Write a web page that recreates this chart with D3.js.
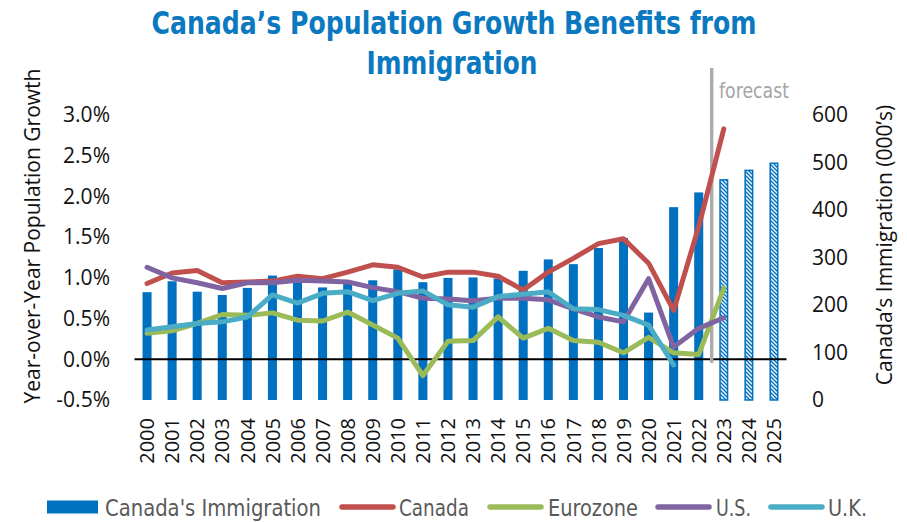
<!DOCTYPE html>
<html><head><meta charset="utf-8">
<script src="https://cdn.jsdelivr.net/npm/d3@7"></script>
<style>body{margin:0;background:#fff}svg{display:block}</style>
</head><body>
<svg id="chart" width="907" height="522"></svg>
<script>
const years = ["2000","2001","2002","2003","2004","2005","2006","2007","2008","2009","2010","2011","2012","2013","2014","2015","2016","2017","2018","2019","2020","2021","2022","2023","2024","2025"];
const immigration = [227,250,228,221,236,262,250,237,247,252,275,248,257,258,256,272,296,286,320,341,184,406,437,465,485,500];
const forecastYears = ["2023","2024","2025"];
const canada   = [0.93,1.06,1.09,0.94,0.95,0.96,1.02,0.99,1.07,1.16,1.13,1.01,1.07,1.07,1.02,0.85,1.07,1.24,1.42,1.48,1.18,0.60,1.63,2.83,null,null];
const eurozone = [0.32,0.35,0.44,0.55,0.54,0.57,0.48,0.47,0.58,0.42,0.26,-0.20,0.22,0.23,0.52,0.26,0.38,0.23,0.21,0.08,0.27,0.08,0.06,0.87,null,null];
const us       = [1.13,1.00,0.94,0.87,0.94,0.94,0.97,0.96,0.95,0.88,0.83,0.75,0.74,0.72,0.75,0.75,0.73,0.62,0.52,0.46,0.99,0.15,0.38,0.51,null,null];
const uk       = [0.36,0.40,0.44,0.46,0.52,0.79,0.69,0.81,0.83,0.72,0.81,0.84,0.67,0.64,0.77,0.80,0.83,0.62,0.61,0.54,0.42,-0.07,null,null,null,null];
const leftTicks = [-0.5,0,0.5,1.0,1.5,2.0,2.5,3.0];
const rightTicks = [0,100,200,300,400,500,600];
const seriesNames = ["Canada","Eurozone","U.S.","U.K."];
const seriesColors = ["#C0504D","#9BBB59","#8064A2","#4BACC6"];
const titleLines = ["Canada\u2019s Population Growth Benefits from","Immigration"];

const svg = d3.select("#chart");
const plotTop = 115, plotBottom = 400, plotLeft = 134.5, plotRight = 786.5;

const x = d3.scaleBand().domain(years).range([plotLeft, plotRight]).paddingInner(0.64).paddingOuter(0.32);
const yL = d3.scaleLinear().domain([-0.5, 3.0]).range([plotBottom, plotTop]);
const yR = d3.scaleLinear().domain([0, 600]).range([plotBottom, plotTop]);
const cx = d => x(d) + x.bandwidth()/2;

// pattern for forecast bars
const defs = svg.append("defs");
const pat = defs.append("pattern").attr("id","hatch").attr("patternUnits","userSpaceOnUse")
  .attr("width",4).attr("height",4);
pat.append("rect").attr("width",4).attr("height",4).attr("fill","#0070C0");
pat.append("path").attr("d","M-1,-1 L5,5 M-1,3 L1,5 M3,-1 L5,1").attr("stroke","#fff").attr("stroke-width",1.4);

// title
const title = svg.append("g").attr("font-family","'Liberation Sans Narrow','DejaVu Sans Condensed',sans-serif")
  .attr("font-weight","bold").attr("font-size",32).attr("fill","#0B79C0").attr("text-anchor","middle");
title.append("text").attr("x",454).attr("y",34).attr("textLength",605).attr("lengthAdjust","spacingAndGlyphs").text(titleLines[0]);
title.append("text").attr("x",452).attr("y",74).attr("textLength",171).attr("lengthAdjust","spacingAndGlyphs").text(titleLines[1]);

// bars
const isF = d => forecastYears.includes(d);
svg.append("g").selectAll("rect").data(years).join("rect")
  .attr("x", d => x(d) + (isF(d) ? 0.75 : 0))
  .attr("width", d => x.bandwidth() - (isF(d) ? 1.5 : 0))
  .attr("y", (d,i) => yR(immigration[i]) + (isF(d) ? 0.75 : 0))
  .attr("height", (d,i) => yR(0) - yR(immigration[i]) - (isF(d) ? 0.75 : 0))
  .attr("fill", d => isF(d) ? "url(#hatch)" : "#0070C0")
  .attr("stroke", d => isF(d) ? "#0070C0" : "none")
  .attr("stroke-width", 1.5);

// zero line
svg.append("line").attr("x1",plotLeft).attr("x2",plotRight).attr("y1",yL(0)).attr("y2",yL(0))
  .attr("stroke","#000").attr("stroke-width",2);

// forecast marker
svg.append("line").attr("x1",711.7).attr("x2",711.7).attr("y1",68).attr("y2",363)
  .attr("stroke","#ABABAB").attr("stroke-width",3.4);
svg.append("text").attr("x",719).attr("y",98).attr("font-family","'Liberation Sans Narrow','DejaVu Sans Condensed',sans-serif")
  .attr("font-size",22).attr("fill","#A6A6A6").attr("textLength",70).attr("lengthAdjust","spacingAndGlyphs").text("forecast");

// lines
const allSeries = [canada, eurozone, us, uk];
const line = d3.line().defined(d => d.v !== null).x(d => cx(d.year)).y(d => yL(d.v));
allSeries.forEach((s,k) => {
  svg.append("path").datum(years.map((yr,i) => ({year:yr, v:s[i]})))
    .attr("d", line).attr("fill","none").attr("stroke",seriesColors[k])
    .attr("stroke-width",5).attr("stroke-linecap","round").attr("stroke-linejoin","round");
});

// left axis
const axL = d3.axisLeft(yL).tickValues(leftTicks).tickSize(0).tickPadding(0);
const gL = svg.append("g").attr("transform","translate(110,0)").call(axL);
gL.select(".domain").remove();
gL.selectAll("text").attr("font-family","'Open Sans',sans-serif").attr("font-size",21).attr("fill","#111")
  .text(d => (d < 0 ? "-" : "") + Math.abs(d).toFixed(1) + "%");

// right axis
const axR = d3.axisRight(yR).tickValues(rightTicks).tickSize(0).tickPadding(0);
const gR = svg.append("g").attr("transform","translate(812,0)").call(axR);
gR.select(".domain").remove();
gR.selectAll("text").attr("font-family","'Open Sans',sans-serif").attr("font-size",21).attr("fill","#111");

// x axis
const axX = d3.axisBottom(x).tickSize(0).tickPadding(0);
const gX = svg.append("g").attr("transform","translate(0,418)").call(axX);
gX.select(".domain").remove();
gX.selectAll("text").attr("font-family","'Open Sans',sans-serif").attr("font-size",20).attr("fill","#111")
  .attr("transform","rotate(-90)").attr("text-anchor","end").attr("dy","0.36em").attr("x",0).attr("y",0);

// axis titles
svg.append("text").attr("transform","translate(40,236) rotate(-90)").attr("text-anchor","middle")
  .attr("font-family","'Open Sans',sans-serif").attr("font-size",21).attr("fill","#111")
  .text("Year-over-Year Population Growth");
svg.append("text").attr("transform","translate(892,245) rotate(-90)").attr("text-anchor","middle")
  .attr("font-family","'Open Sans',sans-serif").attr("font-size",21).attr("fill","#111")
  .text("Canada\u2019s Immigration (000\u2019s)");

// legend
const lg = svg.append("g").attr("font-family","'Liberation Sans Narrow','DejaVu Sans Condensed',sans-serif").attr("font-size",23).attr("fill","#595959");
lg.append("rect").attr("x",47).attr("y",500.5).attr("width",51).attr("height",13).attr("fill","#0070C0");
lg.append("text").attr("x",105).attr("y",516).attr("textLength",216).attr("lengthAdjust","spacingAndGlyphs").text("Canada's Immigration");
const legX = [[342,393,399,70],[490,541,548,90],[658,709,716,35],[771,822,828,39]];
seriesNames.forEach((n,k) => {
  const p = legX[k];
  lg.append("line").attr("x1",p[0]).attr("x2",p[1]).attr("y1",507).attr("y2",507)
    .attr("stroke",seriesColors[k]).attr("stroke-width",5.5).attr("stroke-linecap","round");
  lg.append("text").attr("x",p[2]).attr("y",516).attr("textLength",p[3]).attr("lengthAdjust","spacingAndGlyphs").text(n);
});
</script>
</body></html>
